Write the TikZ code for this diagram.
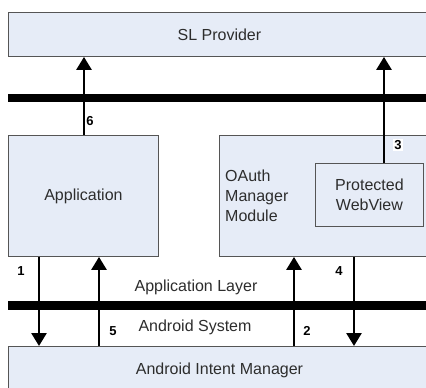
\documentclass[tikz,border=0pt]{standalone}
\usepackage{fontspec}
\setmainfont{Liberation Sans}
\usetikzlibrary{arrows.meta}
\definecolor{boxfill}{RGB}{230,236,247}
\definecolor{boxline}{RGB}{85,85,85}
\definecolor{labeltext}{RGB}{45,45,45}
\tikzset{
  box/.style={draw=boxline, fill=boxfill, line width=0.9pt, inner sep=0pt,
    text=labeltext, font=\fontsize{16}{19}\selectfont},
  arr/.style={line width=2.7pt, -{Triangle[width=15pt,length=13pt]}},
  layerbar/.style={line width=8.5pt},
  num/.style={font=\fontsize{13}{14}\selectfont\bfseries, inner sep=1pt},
  caption/.style={font=\fontsize{16}{19}\selectfont, text=labeltext, inner sep=0pt}
}
\begin{document}
\begin{tikzpicture}[x=1pt, y=-1pt]
\clip (0,0) rectangle (426,388);
\fill[white] (0,0) rectangle (426,388);

% boxes
\node[box, anchor=north west, minimum width=422pt, minimum height=44pt] (sl) at (8,12) {SL Provider};
\node[box, anchor=north west, minimum width=150pt, minimum height=121pt] (app) at (8,135) {Application};
\node[box, anchor=north west, minimum width=211pt, minimum height=121pt] (oauth) at (219,135) {};
\node[caption, anchor=west, align=left, font=\fontsize{16}{20}\selectfont] (oauthtxt) at (225,196) {OAuth\\Manager\\Module};
\node[box, anchor=north west, minimum width=108pt, minimum height=63pt, align=center, font=\fontsize{16}{20}\selectfont] (wv) at (315,163) {Protected\\WebView};
\node[box, anchor=north west, minimum width=422pt, minimum height=48pt] (aim) at (8,346) {Android Intent Manager};

% layer separators
\coordinate (barL1) at (8,98);
\coordinate (barR1) at (430,98);
\coordinate (barL2) at (8,305.5);
\coordinate (barR2) at (430,305.5);
\draw[layerbar] (barL1) -- (barR1);
\draw[layerbar] (barL2) -- (barR2);

% arrow columns
\coordinate (c1) at (39,0);
\coordinate (c5) at (99,0);
\coordinate (c6) at (84,0);
\coordinate (c2) at (294,0);
\coordinate (c4) at (354,0);
\coordinate (c3) at (384,0);

\draw[arr] (app.north -| c6) -- (sl.south -| c6);
\draw[arr] (wv.north -| c3) -- (sl.south -| c3);
\draw[arr] (app.south -| c1) -- (aim.north -| c1);
\draw[arr] (aim.north -| c5) -- (app.south -| c5);
\draw[arr] (aim.north -| c2) -- (oauth.south -| c2);
\draw[arr] (oauth.south -| c4) -- (aim.north -| c4);

% step numbers
\node[num] (n6) at (90,121) {6};
\node[num, fill=white] (n3) at (398,145) {3};
\node[num] (n1) at (21,271) {1};
\node[num] (n4) at (339,271) {4};
\node[num] (n5) at (113,331) {5};
\node[num] (n2) at (307,331) {2};

% layer names
\node[caption] (applayer) at (196,287) {Application Layer};
\node[caption] (andsys) at (195,327) {Android System};
\end{tikzpicture}
\end{document}
